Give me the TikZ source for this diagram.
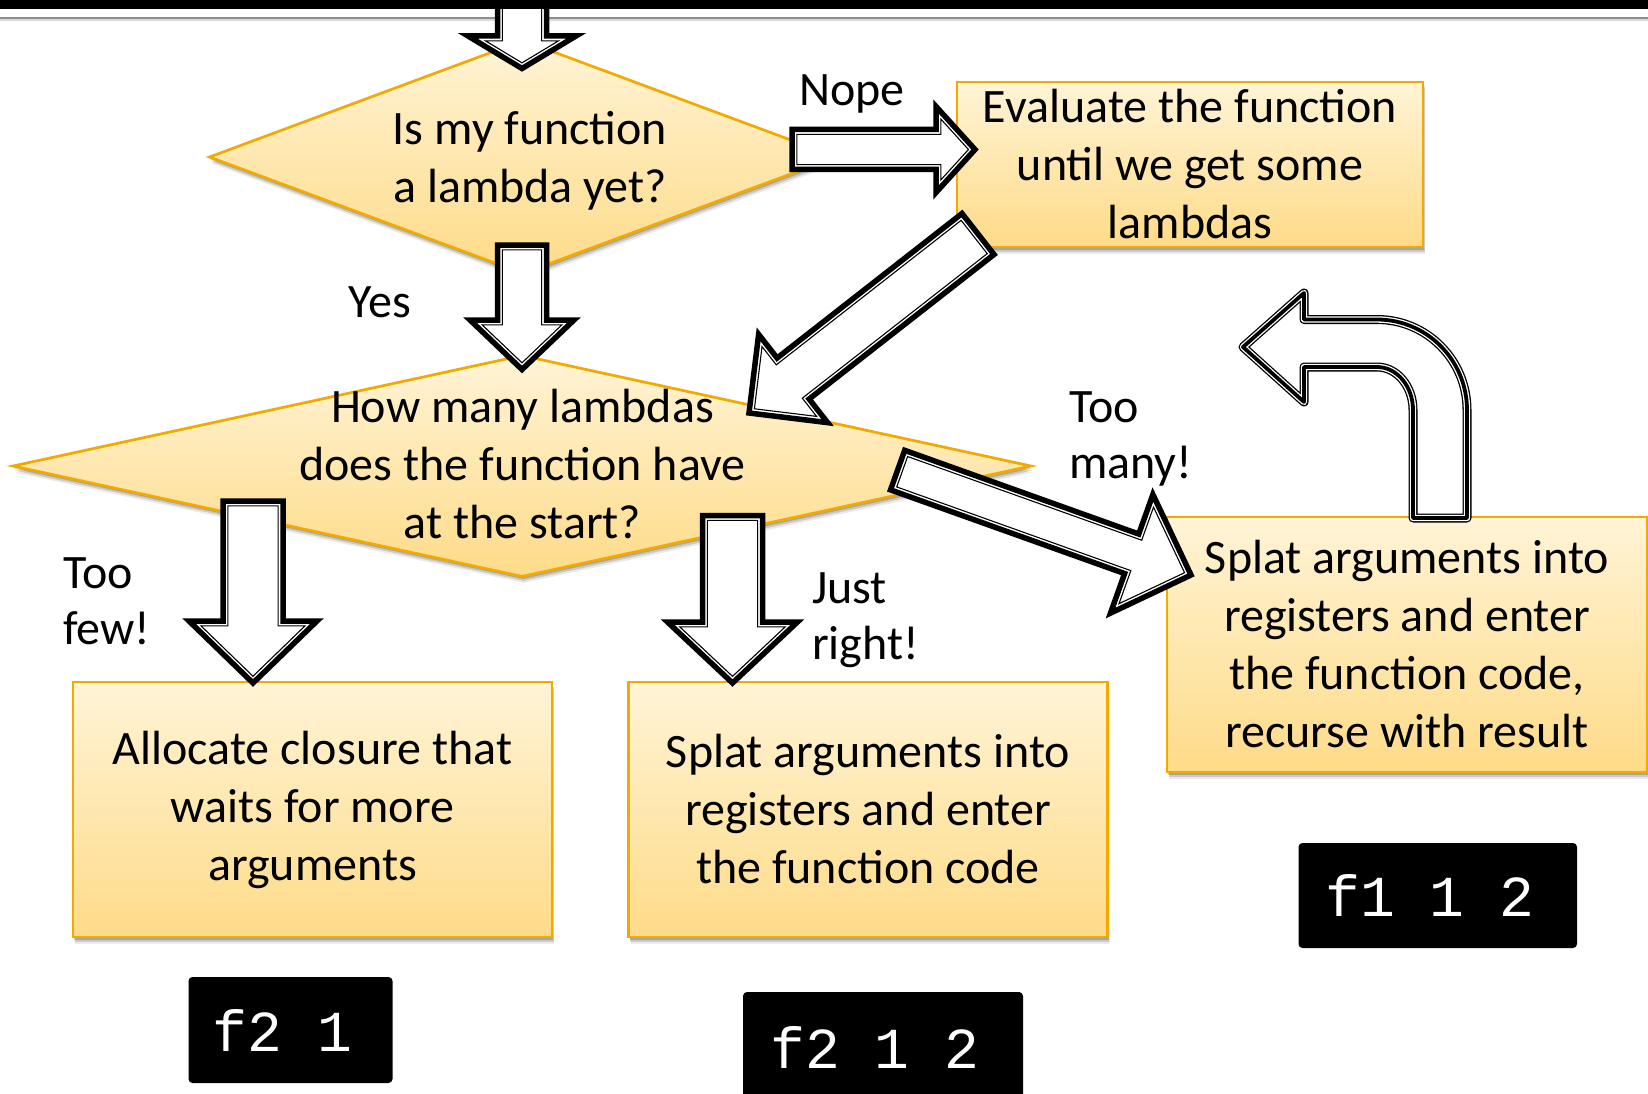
\documentclass[tikz,border=0pt]{standalone}
\usepackage{fontspec}
\setmainfont{Carlito}
\newfontfamily\codefont{Liberation Mono}
\usetikzlibrary{shapes.geometric,calc,shadows}
\definecolor{boxtop}{RGB}{255,244,214}
\definecolor{boxbot}{RGB}{254,219,136}
\definecolor{boxedge}{RGB}{242,170,0}

% block arrow: #1 tail, #2 tip, #3 shaft half width, #4 head half width, #5 head length, #6 name
\newcommand\blockarrow[6]{%
  \pgfmathsetmacro\myBAphi{atan(#4/#5)}%
  \pgfmathsetmacro\myBAd{4.85}%
  \pgfmathsetmacro\myBAtip{\myBAd/sin(\myBAphi)}%
  \pgfmathsetmacro\myBAs{#3-\myBAd}%
  \pgfmathsetmacro\myBAh{#4-\myBAd*tan(\myBAphi)-\myBAd/cos(\myBAphi)}%
  \coordinate (#6-c) at ($(#2)!#5pt!(#1)$);
  \coordinate (#6-a2) at ($(#1)!\myBAd pt!(#2)$);
  \coordinate (#6-b2) at ($(#2)!\myBAtip pt!(#1)$);
  \coordinate (#6-c2) at ($(#6-c)!\myBAd pt!(#2)$);
  \filldraw[arrowouter] ($(#1)!#3pt!90:(#2)$) -- ($(#6-c)!#3pt!90:(#2)$)
    -- ($(#6-c)!#4pt!90:(#2)$) -- (#2) -- ($(#6-c)!#4pt!-90:(#2)$)
    -- ($(#6-c)!#3pt!-90:(#2)$) -- ($(#1)!#3pt!-90:(#2)$) -- cycle;
  \draw[arrowinner] ($(#6-a2)!\myBAs pt!90:(#6-b2)$) -- ($(#6-c2)!\myBAs pt!90:(#6-b2)$)
    -- ($(#6-c2)!\myBAh pt!90:(#6-b2)$) -- (#6-b2) -- ($(#6-c2)!\myBAh pt!-90:(#6-b2)$)
    -- ($(#6-c2)!\myBAs pt!-90:(#6-b2)$) -- ($(#6-a2)!\myBAs pt!-90:(#6-b2)$) -- cycle;
}

\begin{document}
\begin{tikzpicture}[x=1pt,y=-1pt,
  flowshape/.style={draw=boxedge, line width=2.7pt, top color=boxtop, bottom color=boxbot,
    general shadow={shadow xshift=1pt, shadow yshift=-2.5pt, opacity=.18, fill=black},
    general shadow={shadow xshift=1.5pt, shadow yshift=-4.5pt, opacity=.14, fill=black},
    general shadow={shadow xshift=2pt, shadow yshift=-6.5pt, opacity=.08, fill=black},
    font=\fontsize{48}{58}\selectfont, align=center, inner sep=0pt},
  decision/.style={flowshape, diamond},
  process/.style={flowshape, rectangle},
  qtext/.style={font=\fontsize{48}{58}\selectfont, align=center, inner sep=0pt},
  codebox/.style={fill=black, rounded corners=4pt, text=white,
    font=\codefont\fontsize{58}{60}\selectfont, inner sep=0pt},
  lbl/.style={font=\fontsize{48}{56}\selectfont, align=left, inner sep=0pt, anchor=base west},
  arrowouter/.style={fill=white, draw=black, line width=5.5pt, line join=miter},
  arrowinner/.style={draw=black, line width=1.1pt, line join=miter},
]
\useasboundingbox (0,0) rectangle (1648,1094);

% decisions
\node[decision, minimum width=628pt, minimum height=234pt] (q1) at (523,157) {};
\node[decision, minimum width=1019pt, minimum height=222pt] (q2) at (522,466) {};

% process boxes
\node[process, minimum width=466pt, minimum height=165pt] (eval) at (1190,164.5)
  {Evaluate the function\\until we get some\\lambdas};
\node[process, minimum width=479pt, minimum height=255pt] (alloc) at (312.5,809.5)
  {Allocate closure that\\waits for more\\arguments};
\node[process, minimum width=479pt, minimum height=255pt] (splat) at (868,809.5)
  {Splat arguments into\\registers and enter\\the function code};
\node[process, minimum width=480pt, minimum height=255pt] (splatrec) at (1407,644.5)
  {Splat arguments into\\registers and enter\\the function code,\\recurse with result};

% code boxes
\node[codebox, minimum width=278.5pt, minimum height=105pt] (c1) at (1437.75,895.5) {f1 1 2\hspace*{16pt}};
\node[codebox, minimum width=204pt, minimum height=106pt] (c2) at (290.5,1030) {f2 1\hspace*{16pt}};
\node[codebox, minimum width=280pt, minimum height=110pt] (c3) at (883,1047) {f2 1 2\hspace*{16pt}};

% top rule (thin grey line)
\fill[black!45] (0,17.5) rectangle (1648,19.5);
\fill[black!15] (0,19.5) rectangle (1648,21);

% arrow end points
\coordinate (topA) at (522,-5);      \coordinate (topB) at (522,68.5);
\coordinate (yesA) at (522,245);     \coordinate (yesB) at (522,369.5);
\coordinate (nopeA) at (792,149.5);  \coordinate (nopeB) at (975,149.5);
\coordinate (diagA) at (978,234);    \coordinate (diagB) at (749,413);
\coordinate (manyA) at (897.6,470.1);\coordinate (manyB) at (1191,575);
\coordinate (fewA) at (253,501);     \coordinate (fewB) at (253,683);
\coordinate (rightA) at (732.5,515.5);\coordinate (rightB) at (732.5,683);

\blockarrow{topA}{topB}{24.5}{54}{32.5}{top}
\blockarrow{yesA}{yesB}{24.5}{52}{49.5}{yes}
\blockarrow{nopeA}{nopeB}{20}{43}{39}{nope}
\blockarrow{diagA}{diagB}{26}{56}{56}{diag}
\blockarrow{manyA}{manyB}{21}{63}{63}{many}
\blockarrow{fewA}{fewB}{30}{64}{62}{few}
\blockarrow{rightA}{rightB}{30}{65}{61}{right}

% U-turn arrow back to the decision
\path[fill=white, line join=round,
  postaction={draw=black, line width=9pt, line join=round},
  postaction={draw=white, line width=6.4pt, line join=round},
  postaction={draw=black, line width=3.8pt, line join=round}]
  (1413,518) -- (1413,410) arc[start angle=0, end angle=-90, x radius=36, y radius=43]
  -- (1304,367) -- (1304,402) -- (1243,347) -- (1304,293) -- (1304,319.5)
  -- (1377,319.5) arc[start angle=-90, end angle=0, x radius=90, y radius=90.5]
  -- (1467,518) -- cycle;

% decision texts (anchor base = baseline of the last line)
\node[qtext, anchor=base] (q1t) at (530,203) {Is my function\\a lambda yet?};
\node[qtext, anchor=base] (q2t) at (522.5,538) {How many lambdas\\does the function have\\at the start?};

% labels (anchor base west = baseline of the last line)
\node[lbl] (nope) at (799,106) {Nope};
\node[lbl] (yes) at (348,317.5) {Yes};
\node[lbl] (many) at (1069,478) {Too\\many!};
\node[lbl] (few) at (63,644) {Too\\few!};
\node[lbl] (just) at (812,659) {Just\\right!};

% top black bar
\fill[black] (0,0) rectangle (1648,9.5);
\end{tikzpicture}
\end{document}
